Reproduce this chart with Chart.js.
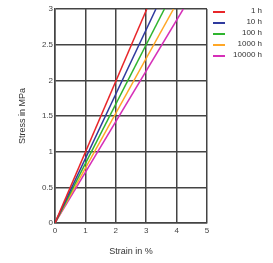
<!DOCTYPE html>
<html lang="en">
<head>
    <meta charset="UTF-8">
    <title>Stress vs strain</title>
    <script src="https://cdn.jsdelivr.net/npm/chart.js"></script>
    <style>
        body { margin: 0; background: #fff; font-family: 'Liberation Sans', Arial, sans-serif; }
        .wrap { position: relative; width: 273px; height: 263px; }
        #legend { position: absolute; left: 213px; top: 5px; width: 49px; font-size: 8px; color: #333; }
        #legend div { position: relative; height: 11px; line-height: 11px; text-align: right; }
        #legend span.sw { position: absolute; left: 0; top: 6px; width: 12px; height: 2px; }
    </style>
</head>
<body>
    <div class="wrap">
        <canvas id="chart" width="273" height="263"></canvas>
        <div id="legend"></div>
    </div>

    <script>
        // durations and the strain where each curve reaches 3 MPa
        const durations = ['1 h', '10 h', '100 h', '1000 h', '10000 h'];
        const strainAt3 = [3.02, 3.32, 3.6, 3.9, 4.22];
        const colors = ['#e8262a', '#2f3a9e', '#2fb52f', '#ffa726', '#d62fb8'];
        const xTicks = [0, 1, 2, 3, 4, 5];
        const yTicks = [0, 0.5, 1, 1.5, 2, 2.5, 3];

        const datasets = durations.map((d, i) => ({
            label: d,
            data: [{ x: 0, y: 0 }, { x: strainAt3[i], y: 3 }],
            borderColor: colors[i],
            borderWidth: 1.5,
            pointRadius: 0,
            fill: false
        }));

        const tickFont = { family: "'Liberation Sans', Arial, sans-serif", size: 8 };
        const gridOpts = { color: '#444', lineWidth: 1.5, drawTicks: false };

        new Chart(document.getElementById('chart'), {
            type: 'line',
            data: { datasets },
            options: {
                responsive: false,
                animation: false,
                layout: { padding: { left: 17, right: 66, top: 9, bottom: 0 } },
                plugins: { legend: { display: false }, tooltip: { enabled: false } },
                scales: {
                    x: {
                        type: 'linear', min: 0, max: 5,
                        afterBuildTicks: s => { s.ticks = xTicks.map(v => ({ value: v })); },
                        afterFit: s => { s.height = 40; },
                        grid: gridOpts,
                        border: { color: '#444', width: 1.5 },
                        ticks: { font: tickFont, color: '#444', padding: 3, callback: v => String(v) },
                        title: { display: true, text: 'Strain in %', font: { family: tickFont.family, size: 9 }, color: '#333', padding: { top: 8, bottom: 6 } }
                    },
                    y: {
                        min: 0, max: 3,
                        afterBuildTicks: s => { s.ticks = yTicks.map(v => ({ value: v })); },
                        afterFit: s => { s.width = 38; },
                        grid: gridOpts,
                        border: { color: '#444', width: 1.5 },
                        ticks: { font: tickFont, color: '#444', padding: 2, callback: v => String(v) },
                        title: { display: true, text: 'Stress in MPa', font: { family: tickFont.family, size: 9 }, color: '#333', padding: 0 }
                    }
                }
            }
        });

        // legend on the right, text aligned to the right edge
        const legend = document.getElementById('legend');
        durations.forEach((d, i) => {
            const row = document.createElement('div');
            row.innerHTML = '<span class="sw" style="background:' + colors[i] + '"></span>' + d;
            legend.appendChild(row);
        });
    </script>
</body>
</html>
